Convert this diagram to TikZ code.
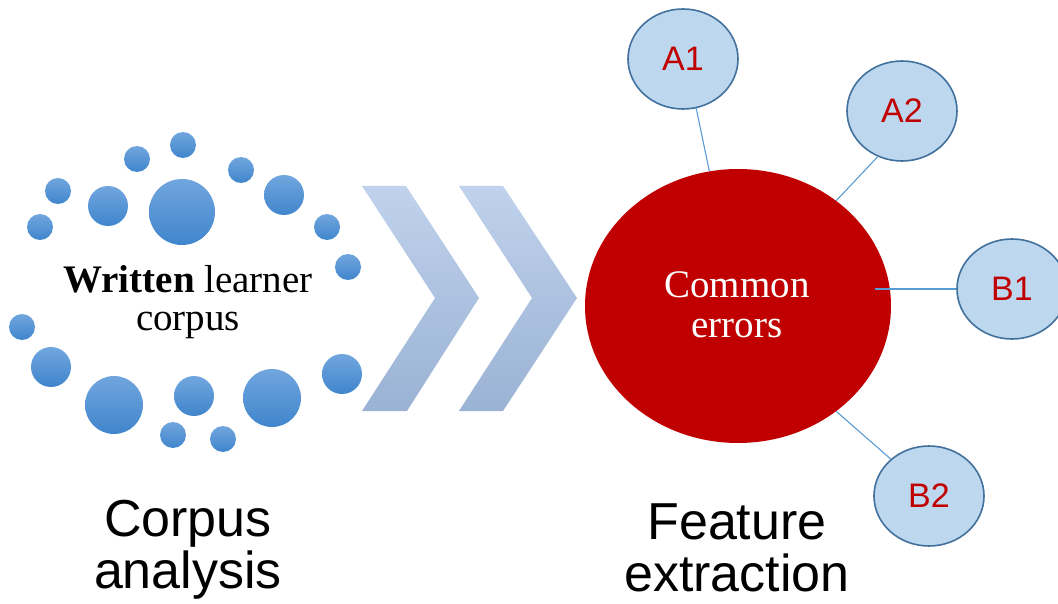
\documentclass[tikz,border=0pt]{standalone}
\usepackage{fontspec}
\setmainfont{Liberation Serif}
\newfontfamily\arialf{Liberation Sans}
\usetikzlibrary{shapes.geometric}
\definecolor{dottop}{RGB}{113,166,222}
\definecolor{dotbot}{RGB}{64,133,204}
\definecolor{chevtop}{RGB}{192,210,236}
\definecolor{chevbot}{RGB}{154,178,212}
\definecolor{errred}{RGB}{192,0,0}
\definecolor{subfill}{RGB}{189,215,238}
\definecolor{subline}{RGB}{65,113,156}
\definecolor{connblue}{RGB}{91,155,213}
\tikzset{
  dot/.style={top color=dottop, bottom color=dotbot, draw=none},
  chev/.style={top color=chevtop, bottom color=chevbot, draw=none},
  sub/.style={ellipse, draw=subline, line width=1.6pt, fill=subfill,
    minimum width=110pt, minimum height=100pt, inner sep=0pt,
    text=errred, font=\arialf\fontsize{34}{34}\selectfont},
  conn/.style={draw=connblue, line width=1.1pt},
  biglabel/.style={align=center, inner sep=0pt, font=\arialf\fontsize{52}{52}\selectfont}
}
\begin{document}
\begin{tikzpicture}[x=1pt,y=-1pt]
\useasboundingbox (0,0) rectangle (1058,604);
% dots
\foreach \cx/\cy/\r in {183/145/13, 137/159/13, 241/170/13, 58/191/13, 108/206/20,
  182/212/33, 284/195/20, 40/227/13, 327/227/13, 348/267/13, 22/327/13,
  51/367/20, 114/405/29, 194/396/20, 272/398/29, 342/374/20, 173/435/13, 223/439/13}
  \shade[dot] (\cx,\cy) circle [radius=\r];
\node[align=center, inner sep=0pt, font=\fontsize{39}{38}\selectfont] (corpus) at (188,302)
  {\textbf{Written} learner\\corpus};
% chevrons
\shade[chev] (362,186) -- (406,186) -- (479,298) -- (407,411) -- (362,411) -- (435,298) -- cycle;
\shade[chev] (459,186) -- (503,186) -- (577,298) -- (503,411) -- (459,411) -- (532,298) -- cycle;
% central ellipse
\node[ellipse, fill=errred, minimum width=306pt, minimum height=274pt, inner sep=0pt,
  align=center, text=white, font=\fontsize{39}{40}\selectfont] (CE) at (738,306) {};
\node[align=center, inner sep=0pt, text=white, font=\fontsize{39}{40}\selectfont] (cetext) at (737,305)
  {Common\\errors};
% satellites
\node[sub] (A1) at (683,59) {A1};
\node[sub] (A2) at (902,111) {A2};
\node[sub] (B1) at (1012,289) {B1};
\node[sub] (B2) at (929,496) {B2};
% connectors
\draw[conn] (A1.285) -- (CE.102);
\draw[conn] (A2.242) -- (CE.47);
\draw[conn, line width=2pt] (B1.west) -- ([xshift=-16pt]B1.west -| CE.east);
\draw[conn] (B2.136) -- (CE.313);
% bottom labels
\node[biglabel] (lab1) at (188,550) {Corpus\\analysis};
\node[biglabel] (lab2) at (737,548) {Feature\\extraction};
\end{tikzpicture}
\end{document}
